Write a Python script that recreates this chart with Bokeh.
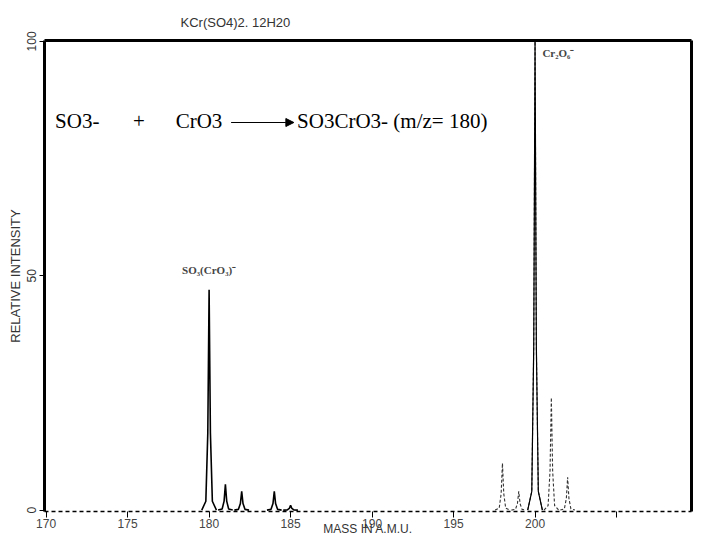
from bokeh.plotting import figure
from bokeh.models import Label, Arrow, NormalHead, LinearAxis, FixedTicker, Range1d
from bokeh.embed import file_html
from bokeh.resources import INLINE

# ---- data ----
so3cro3_mass = [180, 181, 182, 184, 185]
so3cro3_int = [47, 5.5, 4, 4, 1]
cr2o6_mass = [198, 199, 200, 201, 202]
cr2o6_int = [10, 4, 100, 24, 7]
x_ticks = [170, 175, 180, 185, 190, 195, 200, 205]
x_tick_labels = {205: ""}
y_ticks = [0, 50, 100]

title_text = "KCr(SO4)2. 12H20"
x_label = "MASS IN A.M.U."
y_label = "RELATIVE INTENSITY"

# peak profile (style only)
SHAPE_DX = [-0.45, -0.2, -0.08, 0.0, 0.08, 0.2, 0.45]
SHAPE_FR = [0.0, 0.04, 0.35, 1.0, 0.35, 0.04, 0.0]

def peak_lines(masses, ints):
    xs, ys = [], []
    for m, h in zip(masses, ints):
        xs.append([m + d for d in SHAPE_DX])
        ys.append([h * f for f in SHAPE_FR])
    return xs, ys

p = figure(width=698, height=538, output_backend="svg", toolbar_location=None,
           x_range=Range1d(169.9, 209.6), y_range=Range1d(-0.3, 100.2),
           min_border_left=44, min_border_right=7, min_border_top=40, min_border_bottom=27)
p.outline_line_color = None
p.xgrid.visible = False
p.ygrid.visible = False
p.background_fill_color = "white"

p.title.text = title_text
p.title.align = "left"
p.title.offset = 136
p.title.text_font = "Liberation Sans"
p.title.text_font_size = "13px"
p.title.text_font_style = "normal"
p.title.text_color = "#333333"
p.title.standoff = 21

# bottom axis: dashed baseline
xa = p.xaxis[0]
xa.ticker = FixedTicker(ticks=x_ticks)
xa.major_label_overrides = x_tick_labels
xa.axis_line_dash = "4 3"
xa.axis_line_width = 1.5
xa.major_tick_in = 0
xa.major_tick_out = 6
xa.minor_tick_line_color = None
xa.major_label_text_font = "Liberation Sans"
xa.major_label_text_font_size = "12px"
xa.major_label_text_color = "#444444"
xa.major_label_standoff = 1
xa.axis_label = x_label
xa.axis_label_text_font = "Liberation Sans"
xa.axis_label_text_font_size = "12px"
xa.axis_label_text_font_style = "normal"
xa.axis_label_text_color = "#333333"
xa.axis_label_standoff = -9

ya = p.yaxis[0]
ya.ticker = FixedTicker(ticks=y_ticks)
ya.axis_line_width = 3
ya.major_tick_in = 0
ya.major_tick_out = 5
ya.minor_tick_line_color = None
ya.major_label_orientation = "vertical"
ya.major_label_text_font = "Liberation Sans"
ya.major_label_text_font_size = "12px"
ya.major_label_text_color = "#333333"
ya.major_label_standoff = 3
ya.axis_label = y_label
ya.axis_label_text_font = "Liberation Sans"
ya.axis_label_text_font_size = "13px"
ya.axis_label_text_font_style = "normal"
ya.axis_label_text_color = "#333333"
ya.axis_label_standoff = 2

for side in ("above", "right"):
    ax = LinearAxis(ticker=FixedTicker(ticks=[]), axis_line_width=3,
                    major_tick_line_color=None, minor_tick_line_color=None,
                    major_label_text_font_size="0px")
    p.add_layout(ax, side)

# spectrum
xs1, ys1 = peak_lines(so3cro3_mass, so3cro3_int)
p.multi_line(xs1, ys1, line_color="black", line_width=1.6)
xs2, ys2 = peak_lines(cr2o6_mass, cr2o6_int)
p.multi_line(xs2, ys2, line_color="#333333", line_width=1.1, line_dash="3 2")
p.multi_line([xs2[2]], [ys2[2]], line_color="black", line_width=1.2)

# equation
eq_y = 83.0
eq_font = "Liberation Serif"
for xx, txt, al in [(170.55, "SO3-", "left"), (175.7, "+", "center"),
                    (177.95, "CrO3", "left"), (185.4, "SO3CrO3-  (m/z= 180)", "left")]:
    p.add_layout(Label(x=xx, y=eq_y, text=txt, text_align=al, text_baseline="middle",
                       text_font=eq_font, text_font_size="21px", text_color="black"))
p.add_layout(Arrow(x_start=181.35, y_start=eq_y - 0.3, x_end=185.2, y_end=eq_y - 0.3,
                   line_width=1, line_color="black",
                   end=NormalHead(size=8, fill_color="black", line_color="black")))

p.add_layout(Label(x=180.0, y=51.2, text="SO₃(CrO₃)⁻", text_align="center",
                   text_baseline="middle", text_font="Liberation Serif",
                   text_font_style="bold", text_font_size="11px"))
p.add_layout(Label(x=200.45, y=97.5, text="Cr₂O₆⁻", text_align="left",
                   text_baseline="middle", text_font="Liberation Serif",
                   text_font_style="bold", text_font_size="11px"))

open("out.html", "w").write(file_html(p, INLINE))
